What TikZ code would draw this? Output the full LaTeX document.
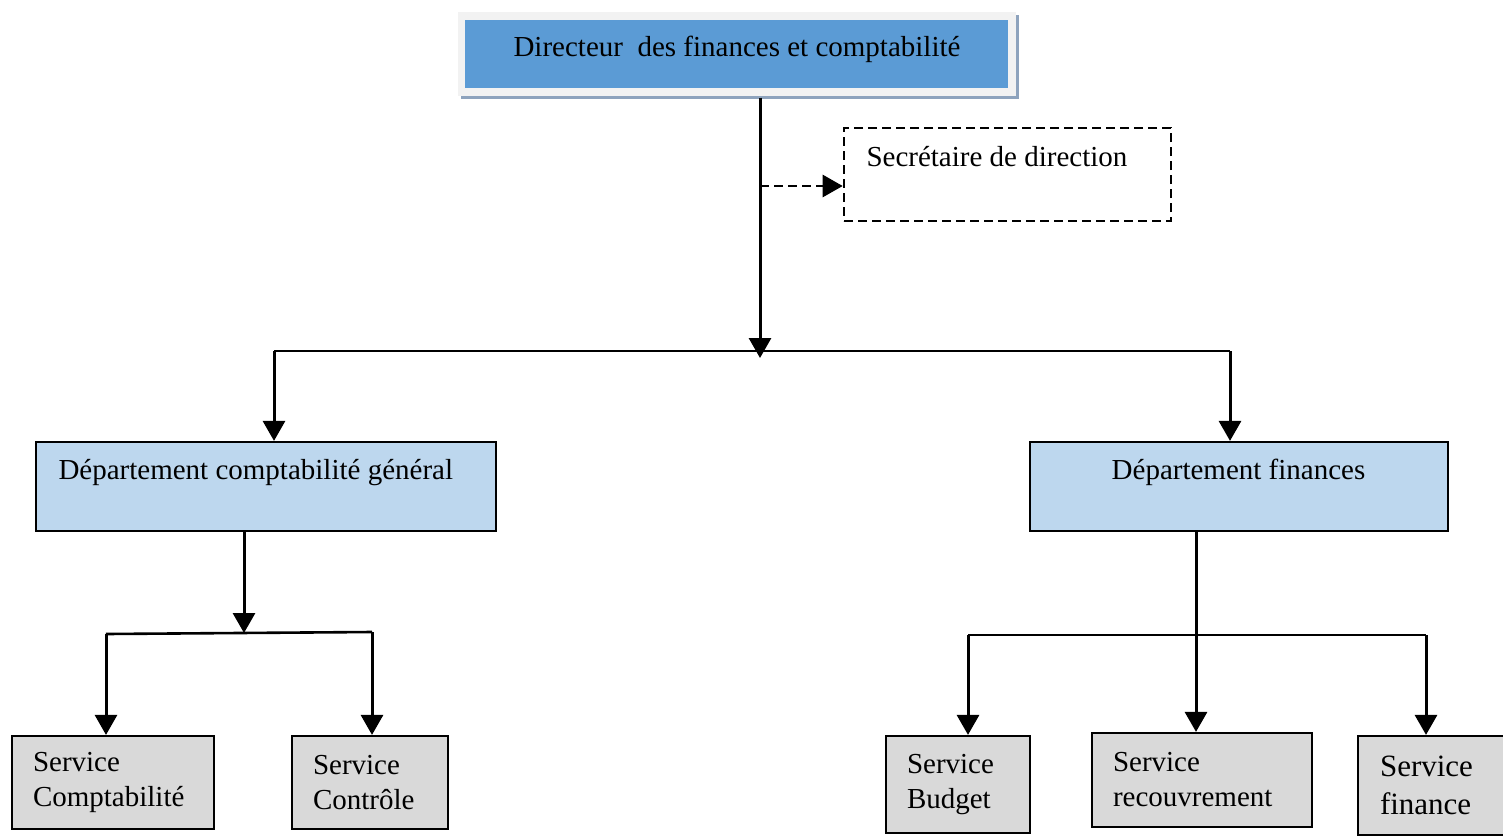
\documentclass[tikz,border=0pt]{standalone}
\usepackage{fontspec}
\setmainfont{Liberation Serif}
\usetikzlibrary{arrows.meta}
\definecolor{topblue}{HTML}{5B9BD5}
\definecolor{framegrey}{HTML}{F2F2F2}
\definecolor{shadowc}{HTML}{8EA3BD}
\definecolor{deptblue}{HTML}{BDD7EE}
\definecolor{svcgrey}{HTML}{D9D9D9}
\begin{document}
\begin{tikzpicture}[x=1pt,y=-1pt,line width=3pt,
  arr/.style={-{Triangle[length=20pt 0 0,width=22pt 0 0]}},
  hline/.style={line width=2.6pt},
  txt/.style={font=\fontsize{29}{35}\selectfont,inner sep=0pt},
  deptbox/.style={draw,fill=deptblue,line width=2.2pt,inner sep=0pt},
  svc/.style={draw,fill=svcgrey,line width=2.2pt,align=left,inner xsep=21pt,inner ysep=0pt,
    font=\fontsize{29}{35}\selectfont},
  dashbox/.style={draw,line width=2.6pt,dash pattern=on 9pt off 5pt,inner sep=0pt}]
\useasboundingbox (0,0) rectangle (1503,835);
% title
\node[fill=shadowc,minimum width=558pt,minimum height=84pt,inner sep=0pt] (shd) at (740,57) {};
\node[fill=framegrey,minimum width=558pt,minimum height=84pt,inner sep=0pt] (frame) at (737,54) {};
\node[fill=topblue,minimum width=543pt,minimum height=68pt,inner sep=0pt] (top) at (736.5,54) {};
\node[txt,anchor=base] (ttl) at (737,56) {Directeur\ \ des finances et comptabilité};
% secretary
\node[dashbox,minimum width=327pt,minimum height=93pt] (sec) at (1007.5,174.5) {};
\node[txt,anchor=base west] (sect) at (865,166) {Secrétaire de direction};
% departments
\node[deptbox,minimum width=460pt,minimum height=89pt] (dc) at (266,486.5) {};
\node[txt,anchor=base west] (dct) at (57,479) {Département comptabilité général};
\node[deptbox,minimum width=418pt,minimum height=89pt] (df) at (1239,486.5) {};
\node[txt,anchor=base] (dft) at (1238.5,479) {Département finances};
% services
\node[svc,text width=160pt,minimum height=93pt] (sc) at (113,782.5) {Service\\Comptabilité};
\node[svc,text width=114pt,minimum height=93pt] (sct) at (370,782.5) {Service\\Contrôle};
\node[svc,text width=102pt,minimum height=97pt] (sb) at (958,784.5) {Service\\Budget};
\node[svc,text width=178pt,minimum height=94pt] (sr) at (1202,780) {Service\\recouvrement};
\node[svc,text width=102pt,inner xsep=22pt,minimum height=99pt,font=\fontsize{31}{38}\selectfont] (sf) at (1431,785.5) {Service\\finance};
% connectors top
\coordinate (j1) at (760,358);
\coordinate (d0) at (760,186);
\draw[arr] (frame.south -| j1) -- (j1);
\draw[arr,line width=2.6pt,dash pattern=on 9pt off 5pt] (d0) -- (sec.west |- d0);
\coordinate (hL) at (274,351);
\coordinate (hR) at (1230,351);
\draw[hline] (hL) -- (hR);
\draw[arr] (hL) -- (dc.north -| hL);
\draw[arr] (hR) -- (df.north -| hR);
% lower left
\coordinate (l1) at (244,633);
\coordinate (lA) at (106,634);
\coordinate (lB) at (372,632);
\draw[arr] (dc.south -| l1) -- (l1);
\draw[hline] (lA) -- (lB);
\draw[arr] (lA) -- (sc.north -| lA);
\draw[arr] (lB) -- (sct.north -| lB);
% lower right
\coordinate (r0) at (1196,635);
\coordinate (rA) at (968,635);
\coordinate (rB) at (1426,635);
\draw[arr] (df.south -| r0) -- (sr.north -| r0);
\draw[hline] (rA) -- (rB);
\draw[arr] (rA) -- (sb.north -| rA);
\draw[arr] (rB) -- (sf.north -| rB);
\end{tikzpicture}
\end{document}
